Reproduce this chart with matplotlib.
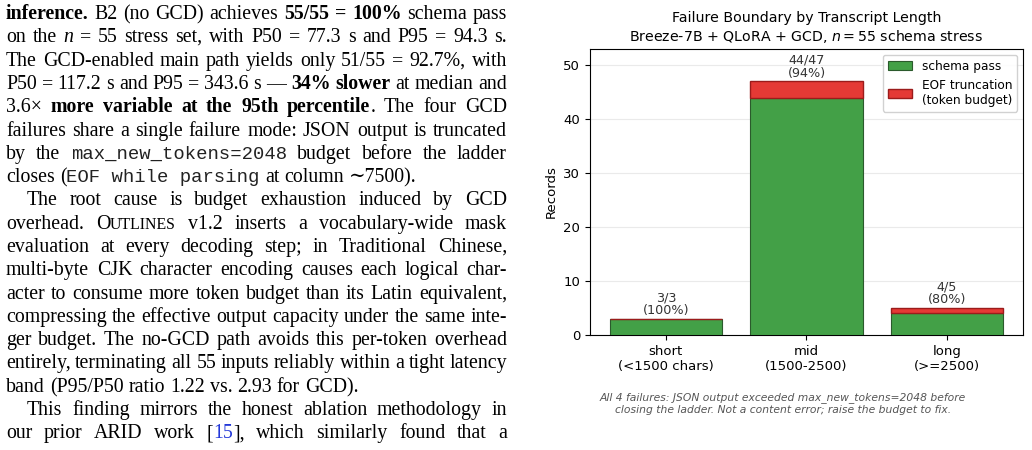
#!/usr/bin/env python3
"""Page snippet: justified paper text on the left, failure-boundary bar chart on the right."""

import matplotlib

matplotlib.use("Agg")
import matplotlib.pyplot as plt
import numpy as np

# chart data
categories = ["short\n(<1500 chars)", "mid\n(1500-2500)", "long\n(>=2500)"]
schema_pass = [3, 44, 4]
eof_fail = [0, 3, 1]

# paper text, one entry per printed line: (runs, indent, justify)
text_lines = [
    ([("inference.", "b"), (" B2 (no GCD) achieves ", "r"), ("55/55 = 100%", "b"), (" schema pass", "r")], False, True),
    ([("on the ", "r"), ("n", "i"), (" = 55 stress set, with P50 = 77.3 s and P95 = 94.3 s.", "r")], False, True),
    ([("The GCD-enabled main path yields only 51/55 = 92.7%, with", "r")], False, True),
    ([("P50 = 117.2 s and P95 = 343.6 s \u2014 ", "r"), ("34% slower", "b"), (" at median and", "r")], False, True),
    ([("3.6\u00d7 ", "r"), ("more variable at the 95th percentile", "b"), (". The four GCD", "r")], False, True),
    ([("failures share a single failure mode: JSON output is truncated", "r")], False, True),
    ([("by the ", "r"), ("max_new_tokens=2048", "m"), (" budget before the ladder", "r")], False, True),
    ([("closes (", "r"), ("EOF while parsing", "m"), (" at column \u223c7500).", "r")], False, False),
    ([("The root cause is budget exhaustion induced by GCD", "r")], True, True),
    ([("overhead. O", "r"), ("UTLINES", "sc"), (" v1.2 inserts a vocabulary-wide mask", "r")], False, True),
    ([("evaluation at every decoding step; in Traditional Chinese,", "r")], False, True),
    ([("multi-byte CJK character encoding causes each logical char-", "r")], False, True),
    ([("acter to consume more token budget than its Latin equivalent,", "r")], False, True),
    ([("compressing the effective output capacity under the same inte-", "r")], False, True),
    ([("ger budget. The no-GCD path avoids this per-token overhead", "r")], False, True),
    ([("entirely, terminating all 55 inputs reliably within a tight latency", "r")], False, True),
    ([("band (P95/P50 ratio 1.22 vs. 2.93 for GCD).", "r")], False, False),
    ([("This finding mirrors the honest ablation methodology in", "r")], True, True),
    ([("our prior ARID work [", "r"), ("15", "link"), ("], which similarly found that a", "r")], False, True),
]

W, H = 1032, 450
SERIF = ["Liberation Serif", "DejaVu Serif"]
BODY_SIZE = 14.3
STYLES = {
    "r": dict(family=SERIF, fontsize=BODY_SIZE, color="black"),
    "b": dict(family=SERIF, fontsize=BODY_SIZE, fontweight="bold", color="black"),
    "i": dict(family=SERIF, fontsize=BODY_SIZE, fontstyle="italic", color="black"),
    "m": dict(family=["Liberation Mono", "DejaVu Sans Mono"], fontsize=13.6, color="#222222"),
    "sc": dict(family=SERIF, fontsize=BODY_SIZE * 0.8, color="black"),
    "link": dict(family=SERIF, fontsize=BODY_SIZE, color="#2338d8"),
}


def split_words(runs):
    words, cur = [], []
    for text, style in runs:
        if style == "m":
            cur.append((text, style))
            continue
        parts = text.split(" ")
        for k, part in enumerate(parts):
            if k > 0 and cur:
                words.append(cur)
                cur = []
            if part:
                cur.append((part, style))
    if cur:
        words.append(cur)
    return words


def draw_page_text(fig, renderer):
    x_left, x_right = 6.0, 507.0
    first_base, step = 19.0, 23.3
    indent = 21.0

    def width_of(text, style):
        t = fig.text(0, 0, text, **STYLES[style])
        w = t.get_window_extent(renderer).width
        t.remove()
        return w

    space = width_of("a a", "r") - width_of("aa", "r")

    for i, (runs, indented, justify) in enumerate(text_lines):
        words = split_words(runs)
        x0 = x_left + (indent if indented else 0.0)
        widths = [[width_of(txt, st) for txt, st in word] for word in words]
        total = sum(sum(w) for w in widths)
        gaps = len(words) - 1
        gap = (x_right - x0 - total) / gaps if (justify and gaps) else space
        # whole-pixel baseline keeps every word of a line on the same row
        y = float(round(first_base + i * step))
        x = x0
        for word, ws in zip(words, widths):
            for (txt, st), w in zip(word, ws):
                fig.text(x / W, (H - y) / H, txt, ha="left", va="baseline", **STYLES[st])
                x += w
            x += gap


def draw_chart(fig):
    left, right, top, bottom = 590, 1023, 49, 335
    ax = fig.add_axes([left / W, 1 - bottom / H, (right - left) / W, (bottom - top) / H])

    x = np.arange(len(categories))
    ax.bar(x, schema_pass, width=0.8, color="#43A047", edgecolor="#2B5A2C", linewidth=0.8,
           label="schema pass", zorder=3)
    ax.bar(x, eof_fail, width=0.8, bottom=schema_pass, color="#E53935", edgecolor="#9B1B1B",
           linewidth=1.0, label="EOF truncation\n(token budget)", zorder=3)

    for xi, p, f in zip(x, schema_pass, eof_fail):
        total = p + f
        ax.text(xi, total + 0.3, f"{p}/{total}\n({100 * p / total:.0f}%)", ha="center", va="bottom",
                fontsize=9.2, color="#333333", linespacing=1.0)

    ax.set_xticks(x)
    ax.set_xticklabels(categories, fontsize=9.5)
    ax.tick_params(axis="y", labelsize=9.5)
    ax.set_ylim(0, 53)
    ax.set_yticks([0, 10, 20, 30, 40, 50])
    ax.set_ylabel("Records", fontsize=9.5)
    ax.grid(axis="y", color="#dddddd", alpha=0.6, zorder=0)
    ax.set_axisbelow(True)
    ax.set_title("Failure Boundary by Transcript Length\nBreeze-7B + QLoRA + GCD, $n = 55$ schema stress",
                 fontsize=10.2, pad=6)
    ax.legend(loc="upper right", fontsize=8.7, framealpha=0.9)

    fig.text(783 / W, 1 - 403.5 / H,
             "All 4 failures: JSON output exceeded max_new_tokens=2048 before\n"
             "closing the ladder. Not a content error; raise the budget to fix.",
             ha="center", va="center", fontsize=7.75, fontstyle="italic", color="#555555")


def main():
    fig = plt.figure(figsize=(W / 100, H / 100), dpi=100)
    fig.patch.set_facecolor("white")
    renderer = fig.canvas.get_renderer()
    draw_page_text(fig, renderer)
    draw_chart(fig)
    fig.savefig("out.png", dpi=100)
    plt.close(fig)


if __name__ == "__main__":
    main()
